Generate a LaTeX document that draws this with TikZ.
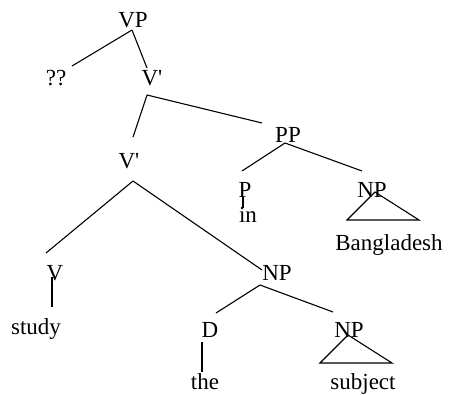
\documentclass[tikz,border=0pt]{standalone}
\usepackage{fontspec}
\setmainfont{Liberation Serif}
\begin{document}
\begin{tikzpicture}[x=1pt,y=-1pt,
  lbl/.style={anchor=base,inner sep=0pt,font=\fontsize{23}{27}\selectfont},
  edge/.style={line width=1.1pt}]
\useasboundingbox (0,0) rectangle (449,394);
% labels
\node[lbl] (vp) at (133,27) {VP};
\node[lbl] (qq) at (56,85) {??};
\node[lbl] (vb1) at (152,85) {V\textquotesingle};
\node[lbl] (vb2) at (129,168) {V\textquotesingle};
\node[lbl] (pp) at (288,142) {PP};
\node[lbl] (p) at (245,197) {P};
\node[lbl] (in) at (248,222) {in};
\node[lbl] (np1) at (372,197) {NP};
\node[lbl] (bd) at (389,250) {Bangladesh};
\node[lbl] (v) at (55,280) {V};
\node[lbl] (study) at (36,334) {study};
\node[lbl] (np2) at (277,280) {NP};
\node[lbl] (d) at (210,337) {D};
\node[lbl] (the) at (205,389.5) {the};
\node[lbl] (np3) at (349,337) {NP};
\node[lbl] (subj) at (363,389.5) {subject};
% attachment points
\coordinate (vp-b) at (132,30);
\coordinate (qq-t) at (72,66);
\coordinate (vb1-t) at (147,68);
\coordinate (vb1-b) at (147,95);
\coordinate (vb2-t) at (133,137);
\coordinate (pp-t) at (262,123);
\coordinate (vb2-b) at (133,181);
\coordinate (v-t) at (46,253);
\coordinate (np2-t) at (262,270);
\coordinate (pp-b) at (285,143);
\coordinate (p-t) at (242,171);
\coordinate (np1-t) at (362,171);
\coordinate (p-b) at (243,197);
\coordinate (in-t) at (243,208);
\coordinate (np1-a) at (375,192);
\coordinate (np1-l) at (347,220);
\coordinate (np1-r) at (419,220);
\coordinate (v-b) at (52,277);
\coordinate (study-t) at (52,307);
\coordinate (np2-b) at (260,285);
\coordinate (d-t) at (216,313);
\coordinate (np3-t) at (333,312);
\coordinate (d-b) at (202,342);
\coordinate (the-t) at (202,372);
\coordinate (np3-a) at (348,335);
\coordinate (np3-l) at (320,363);
\coordinate (np3-r) at (392,363);
% edges
\draw[edge] (vp-b) -- (qq-t);
\draw[edge] (vp-b) -- (vb1-t);
\draw[edge] (vb1-b) -- (vb2-t);
\draw[edge] (vb1-b) -- (pp-t);
\draw[edge] (vb2-b) -- (v-t);
\draw[edge] (vb2-b) -- (np2-t);
\draw[edge] (pp-b) -- (p-t);
\draw[edge] (pp-b) -- (np1-t);
\draw[edge] (p-b) -- (in-t);
\draw[edge] (np1-a) -- (np1-l) -- (np1-r) -- cycle;
\draw[edge] (v-b) -- (study-t);
\draw[edge] (np2-b) -- (d-t);
\draw[edge] (np2-b) -- (np3-t);
\draw[edge] (d-b) -- (the-t);
\draw[edge] (np3-a) -- (np3-l) -- (np3-r) -- cycle;
\end{tikzpicture}
\end{document}
